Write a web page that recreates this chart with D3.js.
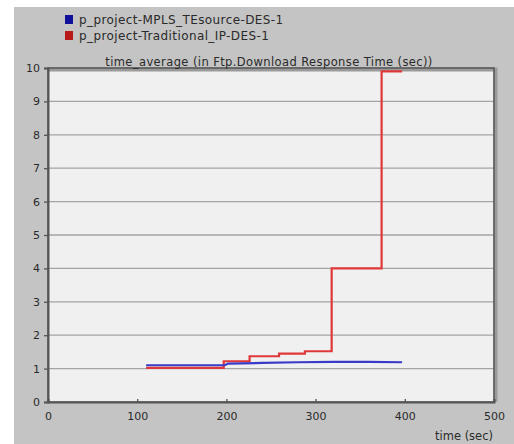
<!DOCTYPE html>
<html><head><meta charset="utf-8">
<script src="https://cdn.jsdelivr.net/npm/d3@7"></script>
<style>html,body{margin:0;padding:0;background:#fff;}svg{display:block;}</style>
</head><body>
<svg id="c" width="514" height="444"></svg>
<script>
const seriesNames = ["p_project-MPLS_TEsource-DES-1", "p_project-Traditional_IP-DES-1"];
const seriesColors = ["#3a3ac8", "#e03838"];
const legendColors = ["#10109a", "#b81a1a"];
const mplsTime  = [110, 198, 202, 240, 280, 320, 360, 397];
const mplsValue = [1.10, 1.10, 1.15, 1.17, 1.19, 1.20, 1.20, 1.19];
const ipTime  = [110, 197, 226, 259, 288, 318, 374, 397];
const ipValue = [1.02, 1.22, 1.37, 1.45, 1.52, 4.0, 9.9, 9.9];
const xTicks = [0, 100, 200, 300, 400, 500];
const yTicks = [0, 1, 2, 3, 4, 5, 6, 7, 8, 9, 10];
const titleText = "time_average (in Ftp.Download Response Time (sec))";
const xLabel = "time (sec)";

const svg = d3.select("#c");
const font = "'DejaVu Sans', Verdana, sans-serif";
// gray panel
svg.append("rect").attr("x", 14).attr("y", 7).attr("width", 500).attr("height", 437).attr("fill", "#c4c4c4");

const L = 48, R = 494, T = 68, B = 402;
const x = d3.scaleLinear().domain([0, 500]).range([L, R]);
const y = d3.scaleLinear().domain([0, 10]).range([B, T]);

// plot background
svg.append("rect").attr("x", L).attr("y", T).attr("width", R - L).attr("height", B - T).attr("fill", "#f0f0f0");
// gridlines
svg.append("g").selectAll("line").data(yTicks.filter(d => d > 0 && d < 10)).join("line")
  .attr("x1", L).attr("x2", R).attr("y1", d => y(d)).attr("y2", d => y(d))
  .attr("stroke", "#a4a4a4").attr("stroke-width", 1.3);

// border (shadow + dark)
svg.append("path").attr("d", `M${L},${T+1.5}H${R+1.5}V${B}`).attr("fill", "none").attr("stroke", "#9a9a9a").attr("stroke-width", 4);
svg.append("rect").attr("x", L).attr("y", T).attr("width", R - L).attr("height", B - T)
  .attr("fill", "none").attr("stroke", "#5a5a5a").attr("stroke-width", 1.6);

// axes
const xAxis = svg.append("g").attr("transform", `translate(0,${B})`)
  .call(d3.axisBottom(x).tickValues(xTicks).tickSize(-3).tickPadding(8).tickFormat(d3.format("d")));
const yAxis = svg.append("g").attr("transform", `translate(${L},0)`)
  .call(d3.axisLeft(y).tickValues(yTicks).tickSize(4).tickPadding(4).tickFormat(d3.format("d")));
[xAxis, yAxis].forEach(a => {
  a.select(".domain").attr("stroke", "#555").attr("stroke-width", 2);
  a.selectAll(".tick line").attr("stroke", "#555").attr("stroke-width", 1.3);
  a.selectAll(".tick text").attr("fill", "#2a2a2a").style("font-family", font).style("font-size", "11px");
});
xAxis.selectAll(".tick text").attr("dy", "0.9em");

// lines
const line = d3.line().x(d => x(d[0])).y(d => y(d[1]));
const stepLine = d3.line().x(d => x(d[0])).y(d => y(d[1])).curve(d3.curveStepAfter);
svg.append("path").datum(ipTime.map((t, i) => [t, ipValue[i]]))
  .attr("d", stepLine).attr("fill", "none").attr("stroke", seriesColors[1]).attr("stroke-width", 2.2);
svg.append("path").datum(mplsTime.map((t, i) => [t, mplsValue[i]]))
  .attr("d", line).attr("fill", "none").attr("stroke", seriesColors[0]).attr("stroke-width", 2.2);

// title
svg.append("text").attr("x", 269).attr("y", 62).attr("text-anchor", "middle").attr("dominant-baseline", "middle")
  .attr("fill", "#2a2a2a").style("font-family", font).style("font-size", "11.5px").style("letter-spacing", "0.4px").text(titleText);
// x label
svg.append("text").attr("x", 493).attr("y", 436).attr("text-anchor", "end").attr("dominant-baseline", "middle")
  .attr("fill", "#2a2a2a").style("font-family", font).style("font-size", "11.5px").text(xLabel);

// legend
const lg = svg.append("g").selectAll("g").data(seriesNames).join("g")
  .attr("transform", (d, i) => `translate(65,${20 + i * 16})`);
lg.append("rect").attr("x", 0).attr("y", -5).attr("width", 8).attr("height", 9).attr("fill", (d, i) => legendColors[i]);
lg.append("text").attr("x", 14).attr("y", 0).attr("dominant-baseline", "middle").attr("fill", "#2a2a2a")
  .style("font-family", font).style("font-size", "12px").style("letter-spacing", "0.4px").text(d => d);
</script>
</body></html>
